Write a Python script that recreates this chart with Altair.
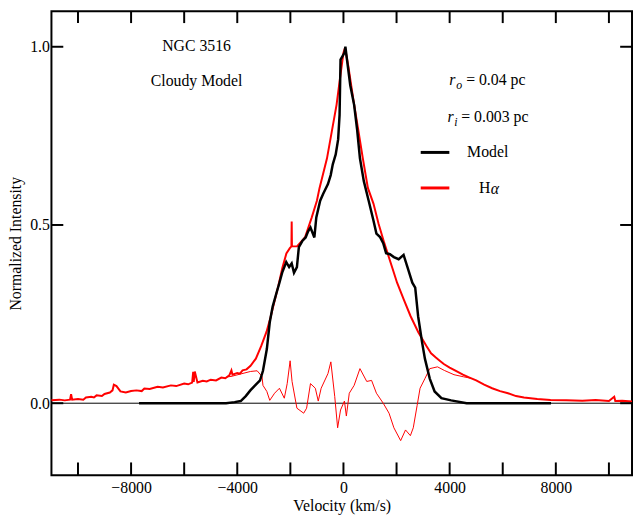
import altair as alt
import pandas as pd

# ---------------- data ----------------
vel_model = [-7700, -4420, -4100, -3870, -3680, -3507, -3300, -3142, -3032, -2886, -2776,
             -2667, -2521, -2411, -2301, -2155, -2046, -1950, -1863, -1753, -1680, -1550,
             -1425, -1330, -1242, -1096, -1023, -877, -767, -584, -480, -402, -292, -200,
             -146, -110, 37, 73, 146, 256, 402, 511, 621, 767, 950, 1132, 1242, 1380, 1498,
             1607, 1750, 1900, 2080, 2265, 2411, 2594, 2703, 2813, 2959, 3068, 3251, 3434,
             3690, 4055, 4640, 7820]
int_model = [0.0, 0.0, 0.003, 0.006, 0.020, 0.036, 0.052, 0.064, 0.091, 0.152, 0.227,
             0.271, 0.310, 0.338, 0.368, 0.396, 0.382, 0.392, 0.366, 0.382, 0.438, 0.455,
             0.465, 0.482, 0.493, 0.465, 0.521, 0.568, 0.587, 0.615, 0.640, 0.670, 0.698,
             0.740, 0.809, 0.964, 0.983, 1.0, 0.956, 0.892, 0.837, 0.770, 0.687, 0.623,
             0.568, 0.512, 0.476, 0.466, 0.449, 0.421, 0.418, 0.410, 0.404, 0.416, 0.382,
             0.338, 0.324, 0.244, 0.172, 0.125, 0.069, 0.033, 0.014, 0.008, 0.0, 0.0]

vel_ha = [-11000, -10700, -10500, -10300, -10260, -10220, -10000, -9800, -9700, -9500,
          -9400, -9300, -9100, -9000, -8800, -8700, -8650, -8550, -8400, -8200, -8000,
          -7800, -7600, -7500, -7300, -7000, -6800, -6500, -6300, -6000, -5850, -5700,
          -5660, -5640, -5600, -5500, -5300, -5150, -5000, -4800, -4600, -4450, -4300,
          -4220, -4180, -4000, -3900, -3800, -3650, -3500, -3300, -3100, -2900, -2750,
          -2600, -2450, -2300, -2150, -2020, -1960, -1950, -1940, -1750, -1450, -1200,
          -1000, -900, -620, -440, -260, -150, 0, 60, 180, 370, 550, 730, 920, 1130,
          1320, 1540, 1830, 2020, 2270, 2530, 2820, 3120, 3300, 3480, 3650, 3780, 4000,
          4200, 4500, 4750, 5000, 5300, 5600, 5900, 6200, 6500, 6800, 7300, 7800, 8400,
          9000, 9500, 10000, 10200, 10240, 10500, 10870]
int_ha = [0.008, 0.010, 0.008, 0.010, 0.025, 0.010, 0.012, 0.010, 0.016, 0.018,
          0.016, 0.022, 0.020, 0.026, 0.030, 0.036, 0.052, 0.048, 0.033, 0.030, 0.034,
          0.036, 0.034, 0.041, 0.040, 0.046, 0.044, 0.050, 0.048, 0.055, 0.053, 0.058,
          0.088, 0.060, 0.089, 0.058, 0.063, 0.061, 0.066, 0.064, 0.072, 0.070, 0.078,
          0.092, 0.080, 0.085, 0.083, 0.092, 0.095, 0.105, 0.125, 0.160, 0.200, 0.240,
          0.285, 0.330, 0.380, 0.420, 0.435, 0.440, 0.510, 0.440, 0.440, 0.465, 0.520,
          0.568, 0.604, 0.687, 0.762, 0.837, 0.900, 0.983, 0.997, 0.947, 0.853, 0.770,
          0.687, 0.604, 0.560, 0.504, 0.449, 0.382, 0.338, 0.291, 0.244, 0.199, 0.161,
          0.140, 0.128, 0.118, 0.110, 0.100, 0.092, 0.080, 0.072, 0.064, 0.052, 0.042,
          0.034, 0.028, 0.020, 0.016, 0.012, 0.009, 0.008, 0.007, 0.009, 0.006, 0.018,
          0.006, 0.007, 0.005]

vel_res = [-4400, -4237, -3507, -3251, -3068, -3032, -2886, -2776, -2594, -2411, -2228,
           -2119, -2009, -1936, -1753, -1498, -1388, -1242, -1059, -950, -840, -584,
           -475, -329, -219, -110, 37, 110, 219, 402, 621, 877, 1059, 1242, 1498, 1717,
           1900, 2155, 2338, 2521, 2630, 2776, 2886, 3068, 3251, 3543, 3799, 4164, 4530,
           4800]
int_res = [0.074, 0.075, 0.089, 0.091, 0.075, 0.050, 0.033, 0.008, 0.028, 0.042, 0.014,
           0.055, 0.119, 0.061, -0.014, -0.028, -0.014, 0.055, 0.042, 0.006, 0.042, 0.083,
           0.116, 0.019, -0.069, -0.019, 0.006, -0.036, 0.028, 0.050, 0.097, 0.061, 0.064,
           0.028, 0.0, -0.028, -0.069, -0.105, -0.075, -0.091, -0.069, -0.006, 0.042,
           0.069, 0.097, 0.102, 0.092, 0.080, 0.074, 0.070]

x_ticks = list(range(-10000, 10001, 2000))
x_labels = [-8000, -4000, 0, 4000, 8000]
y_ticks = [0.0, 0.5, 1.0]

# ---------------- chart ----------------
W, H = 588, 470
FONT = "Liberation Serif"
xs = alt.Scale(domain=[-11000, 10870], nice=False, zero=False)
ys = alt.Scale(domain=[-0.2022, 1.0997], nice=False, zero=False)

df_model = pd.DataFrame({"v": vel_model, "I": int_model})
df_ha = pd.DataFrame({"v": vel_ha, "I": int_ha})
df_res = pd.DataFrame({"v": vel_res, "I": int_res})
df_xt = pd.DataFrame({"v": x_ticks})
df_yt = pd.DataFrame({"I": y_ticks})
one = pd.DataFrame({"a": [0]})

x_axis = alt.Axis(values=x_labels, format="d", ticks=False, domain=False, grid=False,
                  labelFont=FONT, labelFontSize=16, labelColor="black", labelPadding=4,
                  title="Velocity (km/s)", titleFont=FONT, titleFontSize=16,
                  titleFontWeight="normal", titleColor="black", titlePadding=3)
y_axis = alt.Axis(values=y_ticks, format=".1f", ticks=False, domain=False, grid=False,
                  labelFont=FONT, labelFontSize=16, labelColor="black", labelPadding=2,
                  title="Normalized Intensity", titleFont=FONT, titleFontSize=16,
                  titleFontWeight="normal", titleColor="black", titlePadding=6)

X = alt.X("v:Q", scale=xs, axis=x_axis)
Y = alt.Y("I:Q", scale=ys, axis=y_axis)

zero = alt.Chart(one).transform_calculate(I="0").mark_rule(
    color="black", strokeWidth=1).encode(y=Y, x=alt.value(0), x2=alt.value(W))

ha = alt.Chart(df_ha).mark_line(color="#ff0000", strokeWidth=2).encode(x=X, y=Y)
res = alt.Chart(df_res).mark_line(color="#ff0000", strokeWidth=1).encode(x=X, y=Y)
model = alt.Chart(df_model).mark_line(color="black", strokeWidth=2.5).encode(x=X, y=Y)

xt_bot = alt.Chart(df_xt).mark_rule(color="black", strokeWidth=2).encode(
    x=X, y=alt.value(H), y2=alt.value(H - 13))
xt_top = alt.Chart(df_xt).mark_rule(color="black", strokeWidth=2).encode(
    x=X, y=alt.value(0), y2=alt.value(12))
yt_left = alt.Chart(df_yt).mark_rule(color="black", strokeWidth=2).encode(
    y=Y, x=alt.value(0), x2=alt.value(12))
yt_right = alt.Chart(df_yt).mark_rule(color="black", strokeWidth=2).encode(
    y=Y, x=alt.value(W - 12), x2=alt.value(W))


def txt(s, x, y, size=16, style="normal", align="center", baseline="middle"):
    return alt.Chart(one).mark_text(font=FONT, fontSize=size, fontStyle=style,
                                    align=align, baseline=baseline, color="black").encode(
        x=alt.value(x), y=alt.value(y), text=alt.value(s))


texts = [
    txt("NGC 3516", 147, 35),
    txt("Cloudy Model", 147, 71),
    txt("r", 403, 75, style="italic", align="left", baseline="alphabetic"),
    txt("o", 410, 79, size=12, style="italic", align="left", baseline="alphabetic"),
    txt("= 0.04 pc", 420, 75, align="left", baseline="alphabetic"),
    txt("r", 401, 112, style="italic", align="left", baseline="alphabetic"),
    txt("i", 408, 116, size=12, style="italic", align="left", baseline="alphabetic"),
    txt("= 0.003 pc", 415, 112, align="left", baseline="alphabetic"),
    txt("Model", 421, 143, align="left"),
    txt("H", 433, 179, align="left"),
    txt("α", 445, 180, style="italic", align="left"),
]

leg_black = alt.Chart(one).mark_rule(color="black", strokeWidth=3).encode(
    x=alt.value(374), x2=alt.value(403), y=alt.value(143))
leg_red = alt.Chart(one).mark_rule(color="#ff0000", strokeWidth=3).encode(
    x=alt.value(374), x2=alt.value(403), y=alt.value(179))

chart = alt.layer(
    ha, zero, res, model, xt_bot, xt_top, yt_left, yt_right, leg_black, leg_red, *texts
).properties(
    width=W, height=H,
    autosize=alt.AutoSizeParams(type="none"),
    padding={"left": 44, "top": 0, "right": 1, "bottom": 40},
).configure_view(stroke="black", strokeWidth=2)

chart.save("out.html", embed_options={"renderer": "svg", "actions": False})
